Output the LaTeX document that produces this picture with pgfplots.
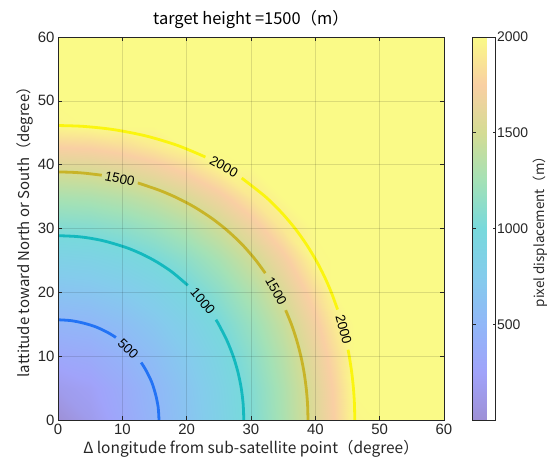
\documentclass[border=0pt]{standalone}
\usepackage{fontspec}
\setmainfont{Liberation Sans}
\newfontfamily\jp{Noto Sans CJK JP}
\usepackage{pgfplots}
\pgfplotsset{compat=1.18}
\pgfplotsset{colormap={fparula}{rgb255=(158,144,214) rgb255=(160,163,250) rgb255=(145,183,248) rgb255=(132,204,236) rgb255=(120,217,220) rgb255=(163,225,182) rgb255=(212,220,148) rgb255=(249,207,163) rgb255=(250,250,135)}}
\definecolor{cA}{RGB}{35,115,245}
\definecolor{cB}{RGB}{20,185,190}
\definecolor{cC}{RGB}{200,180,40}
\definecolor{cD}{RGB}{250,245,15}
\definecolor{axc}{RGB}{38,38,38}
\begin{document}
\begin{tikzpicture}
\begin{axis}[name=main, scale only axis, width=386bp, height=383bp,
 xmin=0, xmax=60, ymin=0, ymax=60,
 xtick={0,10,...,60}, ytick={0,10,...,60},
 grid=major, major grid style={black, opacity=0.12, line width=0.6bp},
 axis on top, tick align=inside, major tick length=4bp,
 axis line style={axc, line width=0.6bp}, every tick/.style={axc, line width=0.6bp},
 colormap name=fparula, point meta min=0, point meta max=2000,
 /pgf/number format/assume math mode=true, /pgf/number format/1000 sep={},
 ticklabel style={font=\fontsize{15}{15}\selectfont, text=axc},
 xticklabel style={yshift=-1bp},
 label style={font=\jp\fontsize{15}{16}\selectfont, text=axc},
 xlabel style={font=\jp\fontsize{15.5}{16}\selectfont, yshift=2bp},
 ylabel style={yshift=-2bp},
 title style={font=\jp\fontsize{16.5}{17}\selectfont, yshift=-1bp},
 title={target height =1500（m）},
 xlabel={Δ longitude from sub-satellite point（degree）},
 ylabel={lattitude toward North or South（degree）},
 colorbar,
 colorbar style={at={(parent axis.north east)}, anchor=north west, xshift=20bp,
   scale only axis, width=23bp, height=383bp,
   ytick={500,1000,1500,2000}, tick align=inside, major tick length=3bp,
   axis line style={axc, line width=0.6bp}, every tick/.style={axc, line width=0.6bp},
   /pgf/number format/assume math mode=true, /pgf/number format/1000 sep={},
   yticklabel style={font=\fontsize{14}{14}\selectfont, text=axc, xshift=-2bp},
   ylabel={pixel displacement（m）},
   ylabel style={font=\jp\fontsize{13.5}{14}\selectfont, text=axc},
   ylabel shift=-2bp,
 },
]
\addplot[surf, shader=interp, mesh/rows=14, mesh/cols=14, point meta=explicit] table[x=x, y=y, meta=z] {
x y z
0 0 0
5 0 155
10 0 312
15 0 477
20 0 651
25 0 839
30 0 1049
35 0 1288
40 0 1568
43 0 1763
46 0 1985
50 0 2000
55 0 2000
60 0 2000
0 5 155
5 5 220
10 5 350
15 5 503
20 5 672
25 5 858
30 5 1066
35 5 1304
40 5 1584
43 5 1779
46 5 2000
50 5 2000
55 5 2000
60 5 2000
0 10 312
5 10 350
10 10 447
15 10 578
20 10 734
25 10 912
30 10 1116
35 10 1352
40 10 1632
43 10 1828
46 10 2000
50 10 2000
55 10 2000
60 10 2000
0 15 477
5 15 503
10 15 578
15 15 690
20 15 832
25 15 1001
30 15 1199
35 15 1433
40 15 1714
43 15 1912
46 15 2000
50 15 2000
55 15 2000
60 15 2000
0 20 651
5 20 672
10 20 734
15 20 832
20 20 962
25 20 1122
30 20 1315
35 20 1548
40 20 1831
43 20 2000
46 20 2000
50 20 2000
55 20 2000
60 20 2000
0 25 839
5 25 858
10 25 912
15 25 1001
20 25 1122
25 25 1276
30 25 1467
35 25 1700
40 25 1988
43 25 2000
46 25 2000
50 25 2000
55 25 2000
60 25 2000
0 30 1049
5 30 1066
10 30 1116
15 30 1199
20 30 1315
25 30 1467
30 30 1657
35 30 1894
40 30 2000
43 30 2000
46 30 2000
50 30 2000
55 30 2000
60 30 2000
0 35 1288
5 35 1304
10 35 1352
15 35 1433
20 35 1548
25 35 1700
30 35 1894
35 35 2000
40 35 2000
43 35 2000
46 35 2000
50 35 2000
55 35 2000
60 35 2000
0 40 1568
5 40 1584
10 40 1632
15 40 1714
20 40 1831
25 40 1988
30 40 2000
35 40 2000
40 40 2000
43 40 2000
46 40 2000
50 40 2000
55 40 2000
60 40 2000
0 43 1763
5 43 1779
10 43 1828
15 43 1912
20 43 2000
25 43 2000
30 43 2000
35 43 2000
40 43 2000
43 43 2000
46 43 2000
50 43 2000
55 43 2000
60 43 2000
0 46 1985
5 46 2000
10 46 2000
15 46 2000
20 46 2000
25 46 2000
30 46 2000
35 46 2000
40 46 2000
43 46 2000
46 46 2000
50 46 2000
55 46 2000
60 46 2000
0 50 2000
5 50 2000
10 50 2000
15 50 2000
20 50 2000
25 50 2000
30 50 2000
35 50 2000
40 50 2000
43 50 2000
46 50 2000
50 50 2000
55 50 2000
60 50 2000
0 55 2000
5 55 2000
10 55 2000
15 55 2000
20 55 2000
25 55 2000
30 55 2000
35 55 2000
40 55 2000
43 55 2000
46 55 2000
50 55 2000
55 55 2000
60 55 2000
0 60 2000
5 60 2000
10 60 2000
15 60 2000
20 60 2000
25 60 2000
30 60 2000
35 60 2000
40 60 2000
43 60 2000
46 60 2000
50 60 2000
55 60 2000
60 60 2000
};
% 500 contour
\addplot[cA, line width=2.8bp, smooth] coordinates {(15.7,0) (15.57,2) (15.17,4) (14.54,6) (13.56,8) (12.92,9)};
\addplot[cA, line width=2.8bp, smooth] coordinates {(9,12.92) (8,13.56) (6,14.54) (4,15.17) (2,15.57) (0,15.7)};
% 1000 contour
\addplot[cB, line width=2.8bp, smooth] coordinates {(28.88,0) (28.78,2.5) (28.48,5) (27.97,7.5) (27.23,10) (26.24,12.5) (24.97,15) (24.55,15.7)};
\addplot[cB, line width=2.8bp, smooth] coordinates {(20.18,21.1) (17.96,23) (16.56,24) (14.95,25) (13.03,26) (10.65,27) (7.36,28) (4.86,28.5) (2.82,28.75) (0,28.88)};
% 1500 contour
\addplot[cC, line width=2.8bp, smooth] coordinates {(38.86,0) (38.79,2.5) (38.58,5) (38.24,7.5) (37.75,10) (37.10,12.5) (36.28,15) (35.39,17.2)};
\addplot[cC, line width=2.8bp, smooth] coordinates {(32.22,23) (30.77,25) (29.08,27) (27.61,28.5) (25.95,30) (24.04,31.5) (21.80,33) (20.07,34) (18.08,35) (15.73,36) (12.83,37) (12.4,37.13)};
\addplot[cC, line width=2.8bp, smooth] coordinates {(6.8,38.35) (4,38.68) (2,38.81) (0,38.86)};
% 2000 contour
\addplot[cD, line width=2.8bp, smooth] coordinates {(46.13,0) (46.08,2.5) (45.92,5) (45.65,7.5) (45.27,10) (45.09,11)};
\addplot[cD, line width=2.8bp, smooth] coordinates {(43.46,17.3) (42.48,20) (41.40,22.5) (40.12,25) (38.62,27.5) (36.85,30) (34.74,32.5) (32.22,35) (28.56,37.9)};
\addplot[cD, line width=2.8bp, smooth] coordinates {(22.91,41.2) (18.62,43) (13.67,44.5) (8.59,45.5) (3.93,46) (0,46.13)};
% contour labels
\begin{scope}[every node/.style={font=\fontsize{13.5}{14}\selectfont, text=black, inner sep=0pt}]
\node[rotate=-44] at (axis cs:10.9,11.2) {500};
\node[rotate=-50] at (axis cs:22.5,18.6) {1000};
\node[rotate=-12] at (axis cs:9.6,37.8) {1500};
\node[rotate=-61] at (axis cs:33.9,20.2) {1500};
\node[rotate=-30] at (axis cs:25.8,39.7) {2000};
\node[rotate=-75] at (axis cs:44.4,14.2) {2000};
\end{scope}
\end{axis}
\pgfresetboundingbox
\path[use as bounding box] ([shift={(-58bp,-45bp)}]main.south west) rectangle ([shift={(489bp,420bp)}]main.south west);
\end{tikzpicture}
\end{document}
